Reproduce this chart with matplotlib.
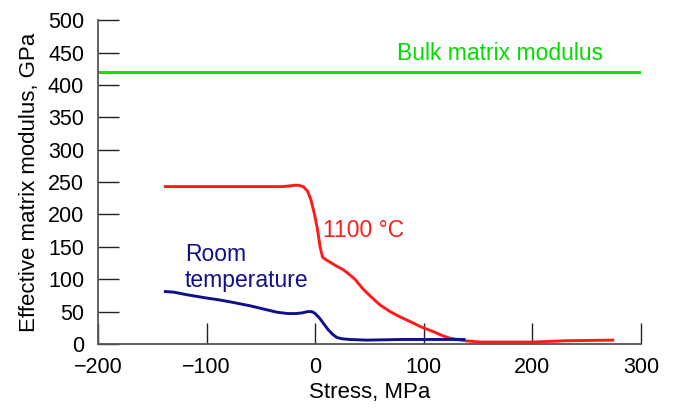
import matplotlib
matplotlib.use("Agg")
import matplotlib.pyplot as plt

plt.rcParams['font.family'] = ['Liberation Sans', 'DejaVu Sans']

# 1100 C curve
hot_stress = [-138, -60, -30, -24, -19, -15, -11, -7, -4, -1, 2, 4.5, 6.8, 10, 15, 20,
              25.6, 31, 36.6, 44, 52, 60, 69, 78, 87, 98, 109, 117, 124, 138, 152, 176,
              200, 231, 274]
hot_modulus = [243, 243, 243, 244, 245, 245, 243, 236, 223, 203, 178, 150, 134, 130,
               125, 120, 115, 108, 100, 85, 72, 60, 50, 42, 35, 26, 19, 13, 9, 5, 3, 3,
               3, 5, 6]

# room temperature curve
room_stress = [-138, -130, -118, -100, -88, -75, -60, -45, -35, -25, -18, -12, -7, -3, 0,
               4, 8, 12, 16, 20, 25, 32, 47, 80, 109, 137]
room_modulus = [81, 80, 76, 71, 68, 64, 59, 53, 49, 47, 47, 48, 50, 50, 47, 40, 31, 22,
                15, 10, 8, 7, 6, 7, 7, 7]

bulk_modulus = 420

fig = plt.figure(figsize=(6.74, 4.11), dpi=100)
ax = fig.add_axes([0.1454, 0.1630, 0.8056, 0.7880])

ax.axhline(bulk_modulus, color='#00e400', lw=2.1)
ax.plot(hot_stress, hot_modulus, color='#ff1a1a', lw=2.1)
ax.plot(room_stress, room_modulus, color='#10108a', lw=2.1)

ax.text(170, 449, 'Bulk matrix modulus', color='#00dd00', fontsize=16.5,
        ha='center', va='center')
ax.text(7, 175, '1100 °C', color='#ff1a1a', fontsize=16.5, ha='left', va='center')
ax.text(-120, 118, 'Room\ntemperature', color='#10108a', fontsize=16.5,
        ha='left', va='center', linespacing=1.15)

ax.set_xlim(-200, 300)
ax.set_ylim(0, 500)
ax.set_xticks(range(-200, 301, 100))
ax.set_yticks(range(0, 501, 50))
ax.set_xticklabels(['\u2212200', '\u2212100', '0', '100', '200', '300'])

for side in ['top', 'right']:
    ax.spines[side].set_visible(False)
for side in ['left', 'bottom']:
    ax.spines[side].set_color('#555555')
    ax.spines[side].set_linewidth(1.3)
ax.tick_params(direction='in', length=15, width=1, color='#222222',
               labelsize=15.5)
ax.tick_params(axis='x', pad=9)
ax.tick_params(axis='y', pad=10)

ax.set_xlabel('Stress, MPa', fontsize=16, labelpad=3)
ax.set_ylabel('Effective matrix modulus, GPa', fontsize=16, labelpad=6)

fig.savefig('out.png', dpi=100)
